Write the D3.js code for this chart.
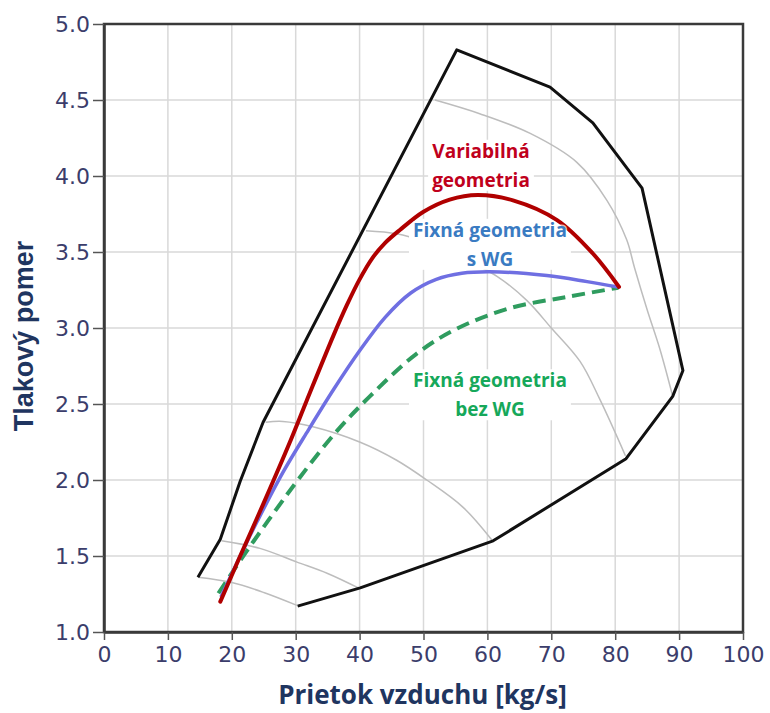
<!DOCTYPE html>
<html>
<head>
<meta charset="utf-8">
<script src="https://cdn.jsdelivr.net/npm/d3@7"></script>
<style>
  body { margin: 0; background: #fff; }
  svg { display: block; }
</style>
</head>
<body>
<div id="chart"></div>
<script>
// tick values of both axes
const xTicks = [0, 10, 20, 30, 40, 50, 60, 70, 80, 90, 100];
const yTicks = [1.0, 1.5, 2.0, 2.5, 3.0, 3.5, 4.0, 4.5, 5.0];

// compressor map border (surge line + choke), [flow, pressure ratio]
const envelope = [[14.7,1.36],[18.2,1.61],[21.3,1.99],[24.9,2.38],[55.2,4.83],[69.8,4.585],[76.5,4.35],
  [84.2,3.92],[90.6,2.72],[89.0,2.55],[81.7,2.14],[60.9,1.60],[40.1,1.29],[30.3,1.17]];

// speed lines (thin gray)
const speed1 = [[14.7,1.36],[20,1.325],[25,1.26],[30.2,1.175]];
const speed2 = [[18.4,1.60],[24.4,1.55],[30.2,1.46],[35,1.385],[39.8,1.29]];
const speed3 = [[25.3,2.38],[28,2.385],[32.7,2.35],[40,2.25],[45.8,2.13],[50.5,2.0],[56.2,1.82],[60.7,1.605]];
const speed4 = [[41,3.64],[45.8,3.62],[50,3.57],[55,3.48],[61.5,3.34],[66.2,3.18],[70,3.0],[74.5,2.78],[77.6,2.53],[81.6,2.16]];
const speed5 = [[51.8,4.5],[58.8,4.41],[66.7,4.28],[74,4.09],[78.7,3.84],[81.8,3.58],[83,3.40],[85,3.12],[87,2.86],[89,2.55]];

// operating lines
const variable = [[18.2,1.2],[21,1.47],[24.9,1.84],[29,2.24],[31.7,2.52],[35.9,2.95],[38,3.15],[40,3.32],
  [42,3.46],[44,3.56],[46.3,3.645],[50,3.765],[54.1,3.845],[58.5,3.875],[64,3.84],[70.9,3.71],[76.5,3.49],[80.6,3.27]];
const fixedWG = [[18.3,1.23],[22,1.56],[24,1.73],[28,2.05],[32,2.33],[36,2.6],[40,2.85],[44,3.07],
  [48,3.23],[52,3.32],[56,3.36],[60.4,3.37],[69.3,3.345],[75.6,3.305],[80.4,3.27]];
const fixedNoWG = [[17.9,1.255],[22.3,1.53],[26.5,1.78],[30.7,2.02],[36.4,2.32],[41.6,2.55],[48.9,2.83],
  [55.2,2.995],[63.5,3.13],[72.5,3.205],[80.5,3.265]];

// labels: lines of text and anchor point in data units
const labels = [
  {lines: ["Variabilná", "geometria"], at: [59, 4.12], color: "#c0001c"},
  {lines: ["Fixná geometria", "s WG"], at: [60.4, 3.60], color: "#3a7bc2"},
  {lines: ["Fixná geometria", "bez WG"], at: [60.4, 2.61], color: "#16a85a"}
];

const w = 770, h = 713;
const padL = 104, padR = 743, padT = 24, padB = 632;

const x = d3.scaleLinear().domain([0, 100]).range([padL, padR]);
const y = d3.scaleLinear().domain([1, 5]).range([padB, padT]);

const svg = d3.select("#chart").append("svg")
  .attr("width", w)
  .attr("height", h);

// grid
svg.append("g")
  .selectAll("line")
  .data(xTicks)
  .enter().append("line")
  .attr("x1", d => x(d)).attr("x2", d => x(d))
  .attr("y1", padT).attr("y2", padB)
  .attr("stroke", "#d9d9d9").attr("stroke-width", 1.5);
svg.append("g")
  .selectAll("line")
  .data(yTicks)
  .enter().append("line")
  .attr("x1", padL).attr("x2", padR)
  .attr("y1", d => y(d)).attr("y2", d => y(d))
  .attr("stroke", "#d9d9d9").attr("stroke-width", 1.5);

const smooth = d3.line().x(d => x(d[0])).y(d => y(d[1])).curve(d3.curveCatmullRom.alpha(0.5));
const straight = d3.line().x(d => x(d[0])).y(d => y(d[1]));

// speed lines
svg.append("g")
  .selectAll("path")
  .data([speed1, speed2, speed3, speed4, speed5])
  .enter().append("path")
  .attr("d", smooth)
  .attr("fill", "none")
  .attr("stroke", "#bdbdbd")
  .attr("stroke-width", 1.5);

// white boxes under the labels, filled in after the text is measured
const boxes = svg.append("g");

// map border
svg.append("path")
  .attr("d", straight(envelope))
  .attr("fill", "none")
  .attr("stroke", "#111")
  .attr("stroke-width", 3)
  .attr("stroke-linejoin", "round");

// operating lines
svg.append("path").attr("d", smooth(fixedNoWG))
  .attr("fill", "none").attr("stroke", "#2f9c5f").attr("stroke-width", 4)
  .attr("stroke-dasharray", "13,7");
svg.append("path").attr("d", smooth(fixedWG))
  .attr("fill", "none").attr("stroke", "#6f6fe2").attr("stroke-width", 3.5);
svg.append("path").attr("d", smooth(variable))
  .attr("fill", "none").attr("stroke", "#b00000").attr("stroke-width", 4)
  .attr("stroke-linecap", "round");

// frame
svg.append("rect")
  .attr("x", padL).attr("y", padT)
  .attr("width", padR - padL).attr("height", padB - padT)
  .attr("fill", "none").attr("stroke", "#3a3a3a").attr("stroke-width", 2.5);

// axes
const xAxis = d3.axisBottom(x).tickValues(xTicks).tickSize(8).tickSizeOuter(0).tickFormat(d3.format("d"));
const gx = svg.append("g").attr("transform", "translate(0," + padB + ")").call(xAxis);
const yAxis = d3.axisLeft(y).tickValues(yTicks).tickSize(11).tickSizeOuter(0).tickFormat(d3.format(".1f"));
const gy = svg.append("g").attr("transform", "translate(" + padL + ",0)").call(yAxis);

[gx, gy].forEach(g => {
  g.select(".domain").attr("stroke", "#3a3a3a").attr("stroke-width", 2.5);
  g.selectAll(".tick line").attr("stroke", "#555").attr("stroke-width", 1.5);
  g.selectAll(".tick text")
    .attr("fill", "#3b3d6b")
    .style("font-family", "DejaVu Sans")
    .style("font-size", "22px");
});
gx.selectAll(".tick text").attr("y", 14);
gy.selectAll(".tick text").attr("x", -14);

// axis titles
svg.append("text")
  .attr("x", (padL + padR) / 2 - 1)
  .attr("y", 704)
  .attr("text-anchor", "middle")
  .attr("fill", "#1f3560")
  .style("font-family", "Open Sans")
  .style("font-weight", "bold")
  .style("font-size", "26px")
  .text("Prietok vzduchu [kg/s]");

svg.append("text")
  .attr("transform", "translate(33,336) rotate(-90)")
  .attr("text-anchor", "middle")
  .attr("fill", "#1f3560")
  .style("font-family", "Liberation Sans")
  .style("font-weight", "bold")
  .style("font-size", "27px")
  .text("Tlakový pomer");

// curve labels
labels.forEach(l => {
  const t = svg.append("text")
    .attr("x", x(l.at[0]))
    .attr("y", y(l.at[1]))
    .attr("text-anchor", "middle")
    .attr("fill", l.color)
    .attr("stroke", "#fff")
    .attr("stroke-width", 3)
    .attr("stroke-opacity", 0.7)
    .attr("paint-order", "stroke")
    .style("font-family", "Open Sans")
    .style("font-weight", "bold")
    .style("font-size", "19px");
  t.selectAll("tspan")
    .data(l.lines)
    .enter().append("tspan")
    .attr("x", x(l.at[0]))
    .attr("dy", (d, i) => i ? 29 : 0)
    .text(d => d);
  const b = t.node().getBBox();
  boxes.append("rect")
    .attr("x", b.x - 4).attr("y", b.y + 2)
    .attr("width", b.width + 8).attr("height", b.height - 4)
    .attr("fill", "#fff");
});
</script>
</body>
</html>
